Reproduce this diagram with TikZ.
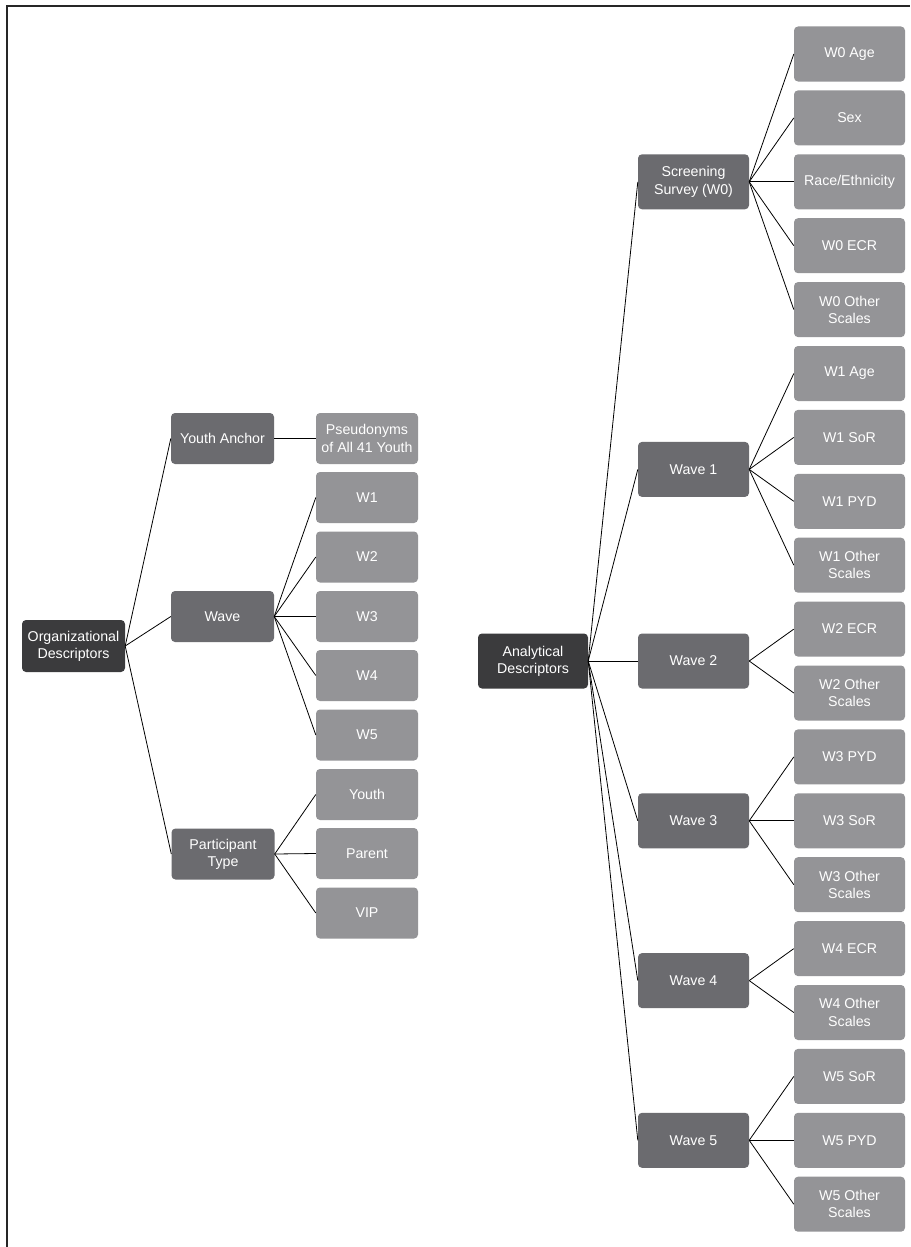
\documentclass[tikz,border=0pt]{standalone}
\usepackage{fontspec}
\setmainfont{Liberation Sans}
\definecolor{cdark}{HTML}{3B3B3D}
\definecolor{cmid}{HTML}{6B6B6F}
\definecolor{clight}{HTML}{949497}
\begin{document}
\begin{tikzpicture}[x=1pt,y=-1pt,
  box/.style={rounded corners=4pt, text=white, align=center, inner sep=0pt,
    font=\fontsize{14.2}{17.2}\selectfont},
  rootbox/.style={box, fill=cdark, minimum width=103pt, minimum height=52pt},
  lmid/.style={box, fill=cmid, minimum width=103pt, minimum height=51pt},
  lleaf/.style={box, fill=clight, minimum width=102pt, minimum height=51pt},
  arootbox/.style={box, fill=cdark, minimum width=110pt, minimum height=55pt},
  rmid/.style={box, fill=cmid, minimum width=111pt, minimum height=55pt},
  rleaf/.style={box, fill=clight, minimum width=111pt, minimum height=55pt},
  link/.style={draw=black, line width=0.8pt}]
\useasboundingbox (0,0) rectangle (910,1247);
\fill[white] (0,0) rectangle (910,1247);
% frame
\coordinate (fa) at (7,1247);
\coordinate (fb) at (7,6);
\coordinate (fc) at (910,6);
\draw[line width=1.6pt, black!85] (fa) -- (fb) -- (fc);

% ---------- left tree ----------
\node[rootbox] (org) at (73.5,646) {Organizational\\Descriptors};
\node[lmid] (ya) at (222.5,438.5) {Youth Anchor};
\node[lmid] (wave) at (222.5,616.5) {Wave};
\node[lmid] (pt) at (223,854) {Participant\\Type};
\node[lleaf] (ps) at (367,438.5) {Pseudonyms\\of All 41 Youth};
\node[lleaf] (w1) at (367,497.5) {W1};
\node[lleaf] (w2) at (367,557) {W2};
\node[lleaf] (w3) at (367,616.5) {W3};
\node[lleaf] (w4) at (367,675.5) {W4};
\node[lleaf] (w5) at (367,735) {W5};
\node[lleaf] (youth) at (367,794.5) {Youth};
\node[lleaf] (parent) at (367,853.5) {Parent};
\node[lleaf] (vip) at (367,913) {VIP};

\foreach \c in {ya,wave,pt} \draw[link] (org.east) -- (\c.west);
\draw[link] (ya.east) -- (ps.west);
\foreach \c in {w1,w2,w3,w4,w5} \draw[link] (wave.east) -- (\c.west);
\foreach \c in {youth,parent,vip} \draw[link] (pt.east) -- (\c.west);

% ---------- right tree ----------
\node[arootbox] (ad) at (533,661) {Analytical\\Descriptors};
\node[rmid] (ss) at (693.5,181.8) {Screening\\Survey (W0)};
\node[rmid] (wv1) at (693.5,469.4) {Wave 1};
\node[rmid] (wv2) at (693.5,661) {Wave 2};
\node[rmid] (wv3) at (693.5,820.8) {Wave 3};
\node[rmid] (wv4) at (693.5,980.6) {Wave 4};
\node[rmid] (wv5) at (693.5,1140.3) {Wave 5};

\node[rleaf] (a0) at (849.5,54) {W0 Age};
\node[rleaf] (a1) at (849.5,117.9) {Sex};
\node[rleaf] (a2) at (849.5,181.8) {Race/Ethnicity};
\node[rleaf] (a3) at (849.5,245.7) {W0 ECR};
\node[rleaf] (a4) at (849.5,309.6) {W0 Other\\Scales};
\node[rleaf] (a5) at (849.5,373.5) {W1 Age};
\node[rleaf] (a6) at (849.5,437.4) {W1 SoR};
\node[rleaf] (a7) at (849.5,501.3) {W1 PYD};
\node[rleaf] (a8) at (849.5,565.2) {W1 Other\\Scales};
\node[rleaf] (a9) at (849.5,629.1) {W2 ECR};
\node[rleaf] (a10) at (849.5,693) {W2 Other\\Scales};
\node[rleaf] (a11) at (849.5,756.9) {W3 PYD};
\node[rleaf] (a12) at (849.5,820.8) {W3 SoR};
\node[rleaf] (a13) at (849.5,884.7) {W3 Other\\Scales};
\node[rleaf] (a14) at (849.5,948.6) {W4 ECR};
\node[rleaf] (a15) at (849.5,1012.5) {W4 Other\\Scales};
\node[rleaf] (a16) at (849.5,1076.4) {W5 SoR};
\node[rleaf] (a17) at (849.5,1140.3) {W5 PYD};
\node[rleaf] (a18) at (849.5,1204.2) {W5 Other\\Scales};

\foreach \c in {ss,wv1,wv2,wv3,wv4,wv5} \draw[link] (ad.east) -- (\c.west);
\foreach \c in {a0,a1,a2,a3,a4} \draw[link] (ss.east) -- (\c.west);
\foreach \c in {a5,a6,a7,a8} \draw[link] (wv1.east) -- (\c.west);
\foreach \c in {a9,a10} \draw[link] (wv2.east) -- (\c.west);
\foreach \c in {a11,a12,a13} \draw[link] (wv3.east) -- (\c.west);
\foreach \c in {a14,a15} \draw[link] (wv4.east) -- (\c.west);
\foreach \c in {a16,a17,a18} \draw[link] (wv5.east) -- (\c.west);
\end{tikzpicture}
\end{document}
